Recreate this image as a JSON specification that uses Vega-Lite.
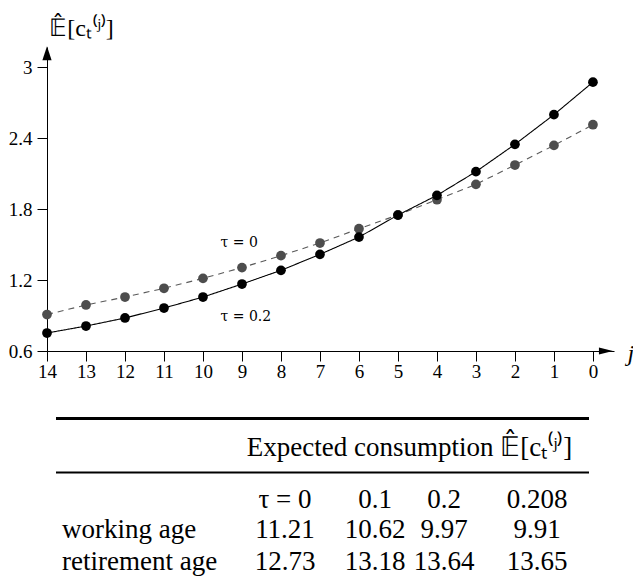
{
  "$schema": "https://vega.github.io/schema/vega-lite/v6.json",
  "autosize": "pad",
  "padding": {"left": 8, "top": 16, "right": 0, "bottom": 0},
  "spacing": 10,
  "config": {
    "view": {"stroke": null},
    "font": "Times New Roman",
    "axis": {"grid": false, "domainColor": "#000", "tickColor": "#000", "labelColor": "#000", "titleColor": "#000", "labelFont": "Times New Roman", "titleFont": "Times New Roman", "titleFontWeight": "normal"}
  },
  "datasets": {
    "series": [
      {"j": 14, "tau": "0", "value": 0.908},
      {"j": 13, "tau": "0", "value": 0.989},
      {"j": 12, "tau": "0", "value": 1.056},
      {"j": 11, "tau": "0", "value": 1.130},
      {"j": 10, "tau": "0", "value": 1.214},
      {"j": 9, "tau": "0", "value": 1.305},
      {"j": 8, "tau": "0", "value": 1.406},
      {"j": 7, "tau": "0", "value": 1.513},
      {"j": 6, "tau": "0", "value": 1.634},
      {"j": 5, "tau": "0", "value": 1.750},
      {"j": 4, "tau": "0", "value": 1.879},
      {"j": 3, "tau": "0", "value": 2.009},
      {"j": 2, "tau": "0", "value": 2.172},
      {"j": 1, "tau": "0", "value": 2.338},
      {"j": 0, "tau": "0", "value": 2.513},
      {"j": 14, "tau": "0.2", "value": 0.752},
      {"j": 13, "tau": "0.2", "value": 0.811},
      {"j": 12, "tau": "0.2", "value": 0.879},
      {"j": 11, "tau": "0.2", "value": 0.963},
      {"j": 10, "tau": "0.2", "value": 1.056},
      {"j": 9, "tau": "0.2", "value": 1.166},
      {"j": 8, "tau": "0.2", "value": 1.282},
      {"j": 7, "tau": "0.2", "value": 1.417},
      {"j": 6, "tau": "0.2", "value": 1.563},
      {"j": 5, "tau": "0.2", "value": 1.749},
      {"j": 4, "tau": "0.2", "value": 1.916},
      {"j": 3, "tau": "0.2", "value": 2.116},
      {"j": 2, "tau": "0.2", "value": 2.347},
      {"j": 1, "tau": "0.2", "value": 2.598},
      {"j": 0, "tau": "0.2", "value": 2.873}
    ],
    "arrows": [
      {"axis": "y", "j": 14, "value": 3.057},
      {"axis": "x", "j": -0.154, "value": 0.6}
    ],
    "notes": [
      {"j": 9.55, "value": 1.513, "label": "τ = 0"},
      {"j": 9.55, "value": 0.887, "label": "τ = 0.2"}
    ],
    "cells": [
      {"row": 1, "col": 2.5, "kind": "center", "text": "Expected consumption 𝔼̂[cₜ⁽ʲ⁾]"},
      {"row": 3, "col": 1, "kind": "center", "text": "τ = 0"},
      {"row": 3, "col": 2, "kind": "center", "text": "0.1"},
      {"row": 3, "col": 3, "kind": "center", "text": "0.2"},
      {"row": 3, "col": 4, "kind": "center", "text": "0.208"},
      {"row": 4, "col": 0, "kind": "left", "text": "working age"},
      {"row": 4, "col": 1, "kind": "center", "text": "11.21"},
      {"row": 4, "col": 2, "kind": "center", "text": "10.62"},
      {"row": 4, "col": 3, "kind": "center", "text": "9.97"},
      {"row": 4, "col": 4, "kind": "center", "text": "9.91"},
      {"row": 5, "col": 0, "kind": "left", "text": "retirement age"},
      {"row": 5, "col": 1, "kind": "center", "text": "12.73"},
      {"row": 5, "col": 2, "kind": "center", "text": "13.18"},
      {"row": 5, "col": 3, "kind": "center", "text": "13.64"},
      {"row": 5, "col": 4, "kind": "center", "text": "13.65"}
    ],
    "rules": [
      {"row": 0, "from": -1, "to": 5, "rule": "top"},
      {"row": 2, "from": -1, "to": 5, "rule": "mid"}
    ]
  },
  "vconcat": [
    {
      "width": 567,
      "height": 304,
      "encoding": {
        "x": {
          "field": "j", "type": "quantitative",
          "scale": {"domain": [14, -0.54], "nice": false, "zero": false},
          "axis": {
            "values": [14, 13, 12, 11, 10, 9, 8, 7, 6, 5, 4, 3, 2, 1, 0],
            "format": "d", "labelFontSize": 19, "labelPadding": 1, "tickSize": 10,
            "title": "j", "titleFontStyle": "italic", "titleFontSize": 24,
            "titleX": 580, "titleY": 2, "titleAlign": "left", "titleBaseline": "middle",
            "labelFlush": false
          }
        },
        "y": {
          "field": "value", "type": "quantitative",
          "scale": {"domain": [0.6, 3.17], "nice": false, "zero": false},
          "axis": {
            "values": [0.6, 1.2, 1.8, 2.4, 3], "format": "~g",
            "labelFontSize": 19, "labelPadding": 5, "tickSize": 10, "labelFlush": false,
            "title": "𝔼̂[cₜ⁽ʲ⁾]", "titleAngle": 0, "titleFontSize": 24,
            "titleX": 34, "titleY": -19, "titleAlign": "center", "titleBaseline": "middle"
          }
        }
      },
      "layer": [
        {
          "data": {"name": "series"},
          "mark": {"type": "line", "strokeWidth": 1.1},
          "encoding": {
            "detail": {"field": "tau"},
            "color": {"field": "tau", "type": "nominal", "scale": {"domain": ["0", "0.2"], "range": ["#5a5a5a", "#000000"]}, "legend": null},
            "strokeDash": {"field": "tau", "type": "nominal", "scale": {"domain": ["0", "0.2"], "range": [[6, 5], [1, 0]]}, "legend": null}
          }
        },
        {
          "data": {"name": "series"},
          "mark": {"type": "point", "filled": true, "opacity": 1, "size": 95},
          "encoding": {
            "color": {"field": "tau", "type": "nominal", "scale": {"domain": ["0", "0.2"], "range": ["#4d4d4d", "#000000"]}, "legend": null}
          }
        },
        {
          "data": {"name": "arrows"},
          "mark": {"type": "point", "filled": true, "opacity": 1, "color": "#000", "size": 784},
          "encoding": {
            "shape": {"field": "axis", "type": "nominal", "scale": {"domain": ["x", "y"], "range": ["M1,0L0,-0.25L0,0.25Z", "M0,-1L0.33,0L-0.33,0Z"]}, "legend": null}
          }
        },
        {
          "data": {"name": "notes"},
          "mark": {"type": "text", "align": "left", "baseline": "middle", "fontSize": 14, "color": "#000", "font": "DejaVu Serif"},
          "encoding": {"text": {"field": "label"}}
        }
      ],
      "resolve": {"scale": {"color": "independent"}}
    },
    {
      "width": 567,
      "height": 190,
      "encoding": {
        "y": {"field": "row", "type": "quantitative", "axis": null,
              "scale": {"domain": [0, 1, 2, 3, 4, 5], "range": [27.5, 65, 81.5, 117, 147, 179], "nice": false, "zero": false}}
      },
      "layer": [
        {
          "data": {"name": "rules"},
          "mark": {"type": "rule", "color": "#000"},
          "encoding": {
            "x": {"field": "from", "type": "quantitative", "axis": null,
                  "scale": {"domain": [-1, 0, 1, 2, 3, 4, 5], "range": [9, 15, 238, 328, 397, 490, 542], "nice": false, "zero": false}},
            "x2": {"field": "to"},
            "strokeWidth": {"field": "rule", "type": "nominal", "scale": {"domain": ["top", "mid"], "range": [3, 2.2]}, "legend": null}
          }
        },
        {
          "data": {"name": "cells"},
          "transform": [{"filter": "datum.kind === 'center'"}],
          "mark": {"type": "text", "align": "center", "baseline": "alphabetic", "fontSize": 27, "color": "#000", "font": "Liberation Serif"},
          "encoding": {
            "x": {"field": "col", "type": "quantitative", "axis": null},
            "text": {"field": "text"}
          }
        },
        {
          "data": {"name": "cells"},
          "transform": [{"filter": "datum.kind === 'left'"}],
          "mark": {"type": "text", "align": "left", "baseline": "alphabetic", "fontSize": 27, "color": "#000", "font": "Liberation Serif"},
          "encoding": {
            "x": {"field": "col", "type": "quantitative", "axis": null},
            "text": {"field": "text"}
          }
        }
      ]
    }
  ]
}
